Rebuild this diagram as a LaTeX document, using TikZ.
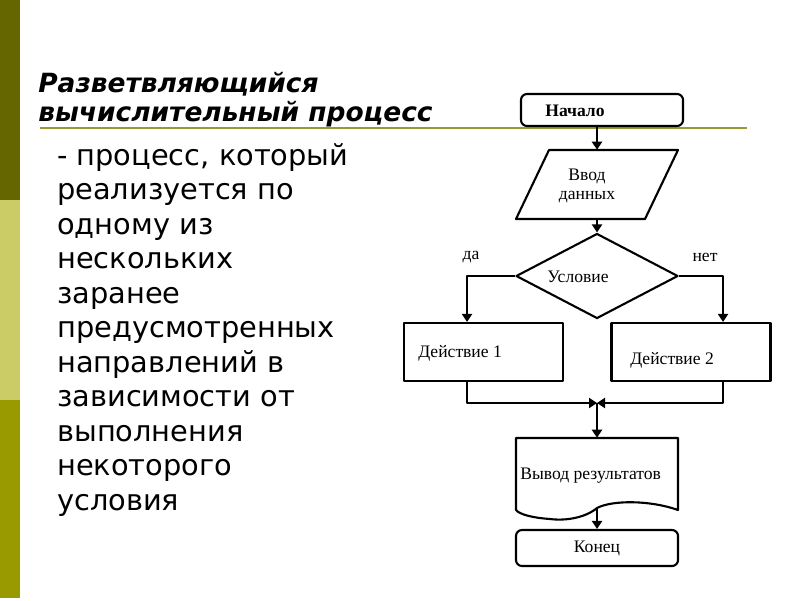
\documentclass[tikz,border=0pt]{standalone}
\usepackage{fontspec}
\setmainfont{DejaVu Sans}
\newfontfamily\schemefont{Liberation Serif}
\usetikzlibrary{shapes.geometric,arrows.meta}
\definecolor{bardark}{HTML}{666600}
\definecolor{barlight}{HTML}{CCCC66}
\definecolor{barolive}{HTML}{999900}
\definecolor{rulecol}{HTML}{999933}
\begin{document}
\begin{tikzpicture}[x=0.025cm,y=-0.025cm,line join=round,
	>={Triangle[length=0.2cm,width=0.25cm]},
	blk/.style={draw,line width=1.5pt,inner sep=0pt},
	term/.style={blk,rounded corners=0.15cm,minimum width=4.05cm,minimum height=0.8cm},
	act/.style={blk,minimum width=3.975cm,minimum height=1.45cm},
	cond/.style={blk,diamond,minimum width=4.05cm,minimum height=2.125cm},
	ghost/.style={inner sep=0pt,minimum width=4.05cm},
	txt/.style={font=\schemefont\fontsize{12.5}{13}\selectfont,inner sep=0pt},
	link/.style={line width=1.5pt}]
	% === Фон и полоса слева ===
	\useasboundingbox (0,0) rectangle (800,600);
	\fill[white] (0,0) rectangle (800,600);
	\fill[bardark] (0,0) rectangle (20,200);
	\fill[barlight] (0,200) rectangle (20,400);
	\fill[barolive] (0,400) rectangle (20,598);
	\draw[rulecol,line width=1.5pt] (40,128) -- (747,128);
	% === Текст слева ===
	\node[anchor=base west,align=left,inner sep=0pt,
		font=\bfseries\itshape\fontsize{18.8}{20.6}\selectfont] (title) at (38,121)
		{Разветвляющийся\\вычислительный процесс};
	\node[anchor=base west,align=left,inner sep=0pt,
		font=\fontsize{20.5}{24.5}\selectfont] (body) at (57,510)
		{- процесс, который\\реализуется по\\одному из\\нескольких\\заранее\\предусмотренных\\направлений в\\зависимости от\\выполнения\\некоторого\\условия};
	% === Блок-схема ===
	\node[term] (start) at (602,110) {};
	\node[txt,font=\schemefont\bfseries\fontsize{12.5}{13}\selectfont] (startt) at (575,111) {Начало};
	\node[ghost,minimum height=1.725cm] (input) at (597,184.5) {};
	\draw[link] (549,150) -- (678,150) -- (645,219) -- (516,219) -- cycle;
	\node[txt,align=center] (inputt) at (587,186) {Ввод\\данных};
	\node[cond] (cond) at (597,276) {};
	\node[txt] (condt) at (578,277) {Условие};
	\node[txt] (yest) at (471,257) {да};
	\node[txt] (not) at (705,257) {нет};
	\coordinate (yes) at (467,276);
	\coordinate (no) at (723,276);
	\node[act] (act1) at (483.5,352) {};
	\node[act] (act2) at (691,352) {};
	\node[txt,anchor=west] (act1t) at (418,353) {Действие 1};
	\node[txt,anchor=west] (act2t) at (630,360) {Действие 2};
	\coordinate (join) at (597,403);
	\node[ghost,minimum height=1.775cm] (outp) at (597,473.5) {};
	\draw[link] (516,438) -- (678,438) -- (678,510)
		.. controls (650,500) and (612,500) .. (597,508)
		.. controls (585,518) and (565,521) .. (550,519)
		.. controls (535,518) and (520,515) .. (516,510) -- cycle;
	\node[txt,anchor=west] (outpt) at (520,476) {Вывод результатов};
	\node[term,minimum height=0.9cm,txt,draw,line width=1.5pt] (stop) at (597,548) {Конец};
	% === Стрелки ===
	\draw[link,->] (input.north |- start.south) -- (input.north);
	\draw[link,->] (input.south) -- (cond.north);
	\draw[link,->] (cond.west) -- (yes) -- (yes |- act1.north);
	\draw[link,->] (cond.east) -- (no) -- (no |- act2.north);
	\draw[link,->] (yes |- act1.south) -- (yes |- join) -- (join);
	\draw[link,->] (no |- act2.south) -- (no |- join) -- (join);
	\draw[link,->] (join) -- (outp.north);
	\draw[link,->] (outp.south) -- (stop.north);
\end{tikzpicture}
\end{document}
